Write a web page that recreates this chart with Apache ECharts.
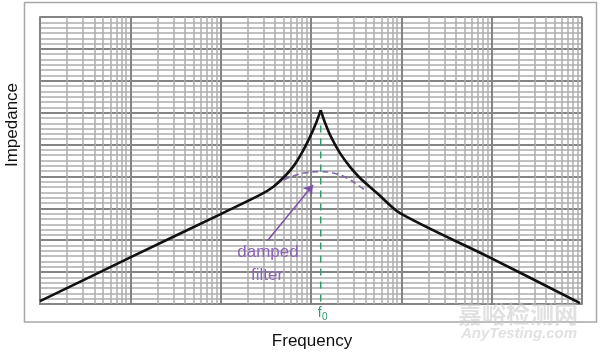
<!DOCTYPE html>
<html>
<head>
<meta charset="utf-8">
<script src="https://cdn.jsdelivr.net/npm/echarts@6/dist/echarts.min.js"></script>
<style>
html,body{margin:0;padding:0;background:#fff;}
#c{width:600px;height:352px;}
</style>
</head>
<body>
<div id="c"></div>
<script>
// Impedance curve, rising side up to the resonance peak (log frequency, impedance in decade units)
const freqRise = [1, 10, 100, 273, 380, 490, 632, 789, 975, 1150, 1281];
const impRise = [0.09, 1.46, 2.82, 3.42, 3.67, 3.95, 4.30, 4.73, 5.24, 5.71, 6.08];
// Impedance curve, falling side from the peak
const freqFall = [1281, 1419, 1666, 2094, 2702, 3489, 4500, 5520, 9670, 98400, 950000];
const impFall = [6.08, 5.71, 5.24, 4.73, 4.30, 3.95, 3.67, 3.45, 2.85, 1.44, 0.03];
// Damped filter curve
const dampedFreq = [400, 454, 632, 896, 1258, 1753, 2485, 3489, 4140];
const dampedImp = [3.73, 3.83, 4.01, 4.12, 4.15, 4.11, 3.95, 3.68, 3.52];
// Resonance frequency marker
const f0 = 1281;
const f0Top = 5.6;
// Arrow from label to damped curve
const arrowFrom = [334, 2.01];
const arrowTo = [1052, 3.73];
// Grid definitions
const decades = [1, 10, 100, 1000, 10000, 100000];
const minorSteps = [2, 3, 4, 5, 6, 7, 8, 9];

const minorLines = [];
decades.forEach(d => minorSteps.forEach(m => minorLines.push({ xAxis: d * m })));

const chart = echarts.init(document.getElementById('c'), null, { renderer: 'canvas' });
const FONT = 'Liberation Sans, Arial, sans-serif';
const BLACK = { color: '#111', width: 2.6 };

chart.setOption({
  animation: false,
  backgroundColor: '#fff',
  grid: { left: 40, top: 17, right: 18, bottom: 48, show: false },
  xAxis: {
    type: 'log', logBase: 10, min: 1, max: 1000000, splitNumber: 6,
    axisLine: { show: true, lineStyle: { color: '#858585', width: 2 } },
    axisTick: { show: false }, axisLabel: { show: false },
    splitLine: { show: true, lineStyle: { color: '#858585', width: 2 } }
  },
  yAxis: {
    type: 'value', min: 0, max: 9, interval: 1,
    axisLine: { show: true, lineStyle: { color: '#858585', width: 2 } },
    axisTick: { show: false }, axisLabel: { show: false },
    splitLine: { show: true, lineStyle: { color: '#858585', width: 2 } },
    minorTick: { show: false, splitNumber: 6 },
    minorSplitLine: { show: true, lineStyle: { color: '#adadad', width: 1.5 } }
  },
  series: [
    {
      type: 'line', data: [], z: 1, silent: true,
      markLine: {
        silent: true, symbol: ['none', 'none'], animation: false,
        label: { show: false },
        lineStyle: { color: '#adadad', width: 1.5, type: 'solid' },
        emphasis: { disabled: true },
        data: minorLines
      }
    },
    {
      type: 'line', z: 4, symbol: 'none', silent: true,
      lineStyle: { color: '#2f9e6c', width: 1.5, type: [7, 6] },
      data: [[f0, f0Top], [f0, 0]]
    },
    {
      type: 'line', z: 5, symbol: 'none', smooth: true, silent: true,
      lineStyle: { color: '#8466ac', width: 1.6, type: [6, 4] },
      data: dampedFreq.map((f, i) => [f, dampedImp[i]]),
      markLine: {
        silent: true, symbol: ['none', 'arrow'], symbolSize: 9,
        label: { show: false },
        lineStyle: { color: '#7a52a8', width: 1.5, type: 'solid' },
        data: [[{ coord: arrowFrom }, { coord: arrowTo }]]
      }
    },
    {
      type: 'line', z: 6, symbol: 'none', silent: true, smooth: 0.3,
      lineStyle: BLACK,
      data: freqRise.map((f, i) => [f, impRise[i]])
    },
    {
      type: 'line', z: 6, symbol: 'none', silent: true, smooth: 0.3,
      lineStyle: BLACK,
      data: freqFall.map((f, i) => [f, impFall[i]])
    }
  ]
});

const p0 = chart.convertToPixel({ gridIndex: 0 }, [f0, 0]);

chart.setOption({
  graphic: [
    { type: 'rect', z: 100, silent: true, shape: { x: 24.5, y: 2.5, width: 572, height: 319.5 },
      style: { fill: 'none', stroke: '#a8a8a8', lineWidth: 1.5 } },
    { type: 'text', z: 100, rotation: Math.PI / 2, silent: true, x: 12, y: 125,
      style: { text: 'Impedance', font: '17px ' + FONT, fill: '#111', textAlign: 'center', textVerticalAlign: 'middle' } },
    { type: 'text', z: 100, silent: true, x: 312, y: 341,
      style: { text: 'Frequency', font: '17px ' + FONT, fill: '#111', textAlign: 'center', textVerticalAlign: 'middle' } },
    { type: 'text', z: 100, silent: true, x: p0[0] - 1, y: 313,
      style: { text: 'f', font: '14px ' + FONT, fill: '#2f9e6c', textAlign: 'center', textVerticalAlign: 'middle' } },
    { type: 'text', z: 100, silent: true, x: p0[0] + 4, y: 317,
      style: { text: '0', font: '10px ' + FONT, fill: '#2f9e6c', textAlign: 'center', textVerticalAlign: 'middle' } },
    { type: 'text', z: 100, silent: true, x: 268, y: 252,
      style: { text: 'damped', font: '17px ' + FONT, fill: '#8b64b5', textAlign: 'center', textVerticalAlign: 'middle' } },
    { type: 'text', z: 100, silent: true, x: 267, y: 275,
      style: { text: 'filter', font: '17px ' + FONT, fill: '#8b64b5', textAlign: 'center', textVerticalAlign: 'middle' } },
    { type: 'text', z: 100, silent: true, x: 518, y: 314,
      style: { text: '嘉峪检测网', font: 'bold 24px "Noto Sans CJK SC", sans-serif', fill: 'rgba(200,200,200,0.55)', textAlign: 'center', textVerticalAlign: 'middle' } },
    { type: 'text', z: 100, silent: true, x: 519, y: 334,
      style: { text: 'AnyTesting.com', font: 'italic bold 15px ' + FONT, fill: 'rgba(200,200,200,0.55)', textAlign: 'center', textVerticalAlign: 'middle' } }
  ]
});
</script>
</body>
</html>
